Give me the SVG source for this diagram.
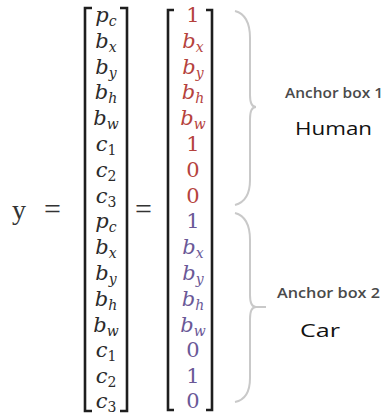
<svg xmlns="http://www.w3.org/2000/svg" width="384" height="414" viewBox="0 0 384 414">
<style>
.m{font-family:"DejaVu Serif","Liberation Serif",serif;font-size:21px;text-anchor:middle}
.i{font-style:italic}
.s{font-size:14px}
.k{fill:#2a2a2a}
.r{fill:#b5423d}
.p{fill:#6a5897}
.br{fill:none;stroke:#1e1e1e;stroke-width:2.6}
.bc{fill:none;stroke:#c9c9c9;stroke-width:2}
.lb{font-family:"Open Sans","DejaVu Sans",sans-serif;font-size:14px;font-weight:600;fill:#4a4a4a}
.nm{font-family:"Open Sans","DejaVu Sans",sans-serif;font-size:18px;fill:#111}
.eq{font-family:"Liberation Serif","DejaVu Serif",serif;font-size:30px;fill:#333}
</style>
<rect width="384" height="414" fill="#fff"/>
<g id="lhs">
<text class="eq" x="12" y="219" style="font-size:28px">y</text>
<text class="eq" x="44" y="219">=</text>
<text class="eq" x="135" y="219">=</text>
</g>
<g id="vector-symbols">
<path class="br" d="M92 8 H85 V411 H92 M120 8 H127 V411 H120"/>
<g class="m k">
<text x="106" y="22"><tspan class="i">p</tspan><tspan class="i s" dy="4">c</tspan></text>
<text x="106" y="48"><tspan class="i">b</tspan><tspan class="i s" dy="4">x</tspan></text>
<text x="106" y="74"><tspan class="i">b</tspan><tspan class="i s" dy="4">y</tspan></text>
<text x="106" y="99"><tspan class="i">b</tspan><tspan class="i s" dy="4">h</tspan></text>
<text x="106" y="125"><tspan class="i">b</tspan><tspan class="i s" dy="4">w</tspan></text>
<text x="106" y="151"><tspan class="i">c</tspan><tspan class="s" dy="4">1</tspan></text>
<text x="106" y="177"><tspan class="i">c</tspan><tspan class="s" dy="4">2</tspan></text>
<text x="106" y="203"><tspan class="i">c</tspan><tspan class="s" dy="4">3</tspan></text>
<text x="106" y="228"><tspan class="i">p</tspan><tspan class="i s" dy="4">c</tspan></text>
<text x="106" y="254"><tspan class="i">b</tspan><tspan class="i s" dy="4">x</tspan></text>
<text x="106" y="280"><tspan class="i">b</tspan><tspan class="i s" dy="4">y</tspan></text>
<text x="106" y="306"><tspan class="i">b</tspan><tspan class="i s" dy="4">h</tspan></text>
<text x="106" y="332"><tspan class="i">b</tspan><tspan class="i s" dy="4">w</tspan></text>
<text x="106" y="357"><tspan class="i">c</tspan><tspan class="s" dy="4">1</tspan></text>
<text x="106" y="383"><tspan class="i">c</tspan><tspan class="s" dy="4">2</tspan></text>
<text x="106" y="408"><tspan class="i">c</tspan><tspan class="s" dy="4">3</tspan></text>
</g>
</g>
<g id="vector-values">
<path class="br" d="M174 10 H168 V410 H174 M206 10 H212 V410 H206"/>
<g class="m r">
<text x="193" y="22">1</text>
<text x="193" y="48"><tspan class="i">b</tspan><tspan class="i s" dy="4">x</tspan></text>
<text x="193" y="74"><tspan class="i">b</tspan><tspan class="i s" dy="4">y</tspan></text>
<text x="193" y="99"><tspan class="i">b</tspan><tspan class="i s" dy="4">h</tspan></text>
<text x="193" y="125"><tspan class="i">b</tspan><tspan class="i s" dy="4">w</tspan></text>
<text x="193" y="151">1</text>
<text x="193" y="177">0</text>
<text x="193" y="203">0</text>
</g>
<g class="m p">
<text x="193" y="228">1</text>
<text x="193" y="254"><tspan class="i">b</tspan><tspan class="i s" dy="4">x</tspan></text>
<text x="193" y="280"><tspan class="i">b</tspan><tspan class="i s" dy="4">y</tspan></text>
<text x="193" y="306"><tspan class="i">b</tspan><tspan class="i s" dy="4">h</tspan></text>
<text x="193" y="332"><tspan class="i">b</tspan><tspan class="i s" dy="4">w</tspan></text>
<text x="193" y="357">0</text>
<text x="193" y="383">1</text>
<text x="193" y="408">0</text>
</g>
</g>
<g id="connectors">
<path class="bc" d="M235 11 Q250 15 250 38 V95 Q250 107 256 107 Q250 107 250 119 V180 Q250 201 235 205"/>
<path class="bc" d="M235 213 Q250 217 250 240 V295 Q250 307 256 307 H266 M256 307 Q250 307 250 319 V378 Q250 399 235 402"/>
</g>
<g id="anchor-box-1">
<text class="lb" x="285" y="98" textLength="98" lengthAdjust="spacingAndGlyphs">Anchor box 1</text>
<text class="nm" x="295" y="135" textLength="77" lengthAdjust="spacingAndGlyphs">Human</text>
</g>
<g id="anchor-box-2">
<text class="lb" x="277" y="298" textLength="103" lengthAdjust="spacingAndGlyphs">Anchor box 2</text>
<text class="nm" x="300" y="337" textLength="40" lengthAdjust="spacingAndGlyphs">Car</text>
</g>
</svg>
